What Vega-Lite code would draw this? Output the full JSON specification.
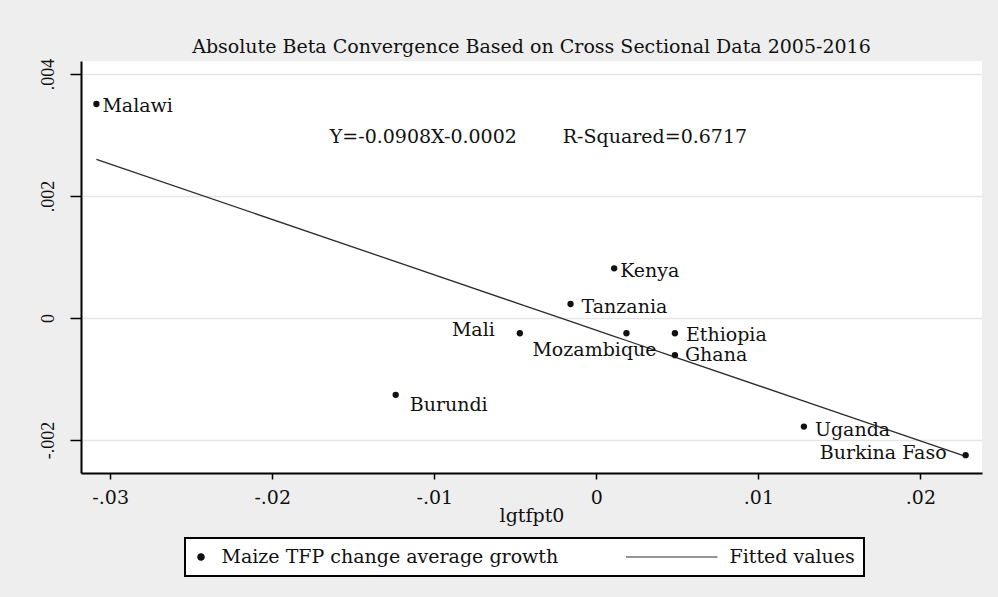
{
  "$schema": "https://vega.github.io/schema/vega-lite/v6.json",
  "width": 901,
  "height": 412,
  "autosize": {"type": "none"},
  "padding": {"left": 81, "top": 61, "right": 16, "bottom": 124},
  "background": "#eeeeee",
  "title": {
    "text": "Absolute Beta Convergence Based on Cross Sectional Data 2005-2016",
    "font": "DejaVu Serif",
    "fontSize": 19,
    "fontWeight": "normal",
    "color": "#111111",
    "anchor": "middle",
    "frame": "group",
    "baseline": "alphabetic",
    "offset": -14
  },
  "datasets": {
    "pts": [
      {"country": "Malawi", "x": -0.03085, "y": 0.00351, "fit": 0.0026012},
      {"country": "Kenya", "x": 0.0011, "y": 0.000815, "fit": -0.0002999},
      {"country": "Tanzania", "x": -0.00159, "y": 0.00023, "fit": -0.0000556},
      {"country": "Mali", "x": -0.00472, "y": -0.00025, "fit": 0.0002286},
      {"country": "Mozambique", "x": 0.00186, "y": -0.00025, "fit": -0.0003689},
      {"country": "Ethiopia", "x": 0.00485, "y": -0.00025, "fit": -0.0006404},
      {"country": "Ghana", "x": 0.00485, "y": -0.00061, "fit": -0.0006404},
      {"country": "Burundi", "x": -0.01238, "y": -0.00126, "fit": 0.0009241},
      {"country": "Uganda", "x": 0.01281, "y": -0.00178, "fit": -0.0013631},
      {"country": "Burkina Faso", "x": 0.02279, "y": -0.00225, "fit": -0.0022693}
    ],
    "ann": [
      {"x": -0.01645, "y": 0.002866, "label": "Y=-0.0908X-0.0002"},
      {"x": -0.00207, "y": 0.002866, "label": "R-Squared=0.6717"}
    ]
  },
  "encoding": {
    "x": {
      "field": "x",
      "type": "quantitative",
      "title": "lgtfpt0",
      "scale": {"domain": [-0.0318, 0.0238], "nice": false, "zero": false},
      "axis": {
        "values": [-0.03, -0.02, -0.01, 0, 0.01, 0.02],
        "labelExpr": "datum.value == 0 ? '0' : (datum.value < 0 ? '-' : '') + replace(format(abs(datum.value), '.2f'), '0.', '.')"
      }
    },
    "y": {
      "field": "y",
      "type": "quantitative",
      "title": null,
      "scale": {"domain": [-0.002542, 0.004215], "nice": false, "zero": false},
      "axis": {
        "values": [-0.002, 0, 0.002, 0.004],
        "labelExpr": "datum.value == 0 ? '0' : (datum.value < 0 ? '-' : '') + replace(format(abs(datum.value), '.3f'), '0.', '.')"
      }
    }
  },
  "layer": [
    {
      "data": {"name": "pts"},
      "mark": {"type": "line", "strokeWidth": 1.3},
      "encoding": {
        "y": {
          "field": "fit",
          "type": "quantitative",
          "title": null,
          "scale": {"domain": [-0.002542, 0.004215], "nice": false, "zero": false},
          "axis": {
            "values": [-0.002, 0, 0.002, 0.004],
            "labelExpr": "datum.value == 0 ? '0' : (datum.value < 0 ? '-' : '') + replace(format(abs(datum.value), '.3f'), '0.', '.')"
          }
        },
        "color": {
          "datum": "Fitted values",
          "type": "nominal",
          "scale": {"domain": ["Maize TFP change average growth", "Fitted values"], "range": ["#111111", "#2a2a2a"]},
          "legend": {
            "orient": "none",
            "legendX": 104,
            "legendY": 477,
            "direction": "horizontal",
            "title": null,
            "padding": 9,
            "strokeColor": "#000000",
            "fillColor": "#ffffff",
            "labelFont": "DejaVu Serif",
            "labelFontSize": 19,
            "labelColor": "#111111",
            "labelLimit": 600,
            "labelOffset": 11,
            "symbolOffset": -2.5,
            "columnPadding": 67,
            "clipHeight": 20,
            "symbolStrokeWidth": 1.2,
            "encode": {
              "legend": {"update": {"strokeWidth": {"value": 2}}},
              "symbols": {"update": {"stroke": {"value": "#222222"}, "fill": {"value": "#111111"}}}
            }
          }
        }
      }
    },
    {
      "data": {"name": "pts"},
      "mark": {"type": "point", "filled": true, "opacity": 1},
      "encoding": {
        "color": {
          "datum": "Maize TFP change average growth",
          "type": "nominal",
          "scale": {"domain": ["Maize TFP change average growth", "Fitted values"], "range": ["#111111", "#2a2a2a"]}
        },
        "shape": {
          "datum": "Maize TFP change average growth",
          "type": "nominal",
          "scale": {"domain": ["Maize TFP change average growth", "Fitted values"], "range": ["circle", "stroke"]}
        },
        "size": {
          "datum": "Maize TFP change average growth",
          "type": "nominal",
          "scale": {"type": "point", "padding": 0, "domain": ["Maize TFP change average growth", "Fitted values"], "range": [40, 8649]}
        }
      }
    },
    {
      "data": {"name": "pts"},
      "transform": [{"filter": {"field": "country", "oneOf": ["Malawi", "Kenya"]}}],
      "mark": {"type": "text", "align": "left", "baseline": "middle", "dx": 6, "dy": 2.5, "font": "DejaVu Serif", "fontSize": 19, "color": "#111111"},
      "encoding": {"text": {"field": "country"}}
    },
    {
      "data": {"name": "pts"},
      "transform": [{"filter": {"field": "country", "oneOf": ["Tanzania", "Uganda"]}}],
      "mark": {"type": "text", "align": "left", "baseline": "middle", "dx": 11, "dy": 3, "font": "DejaVu Serif", "fontSize": 19, "color": "#111111"},
      "encoding": {"text": {"field": "country"}}
    },
    {
      "data": {"name": "pts"},
      "transform": [{"filter": {"field": "country", "oneOf": ["Ethiopia"]}}],
      "mark": {"type": "text", "align": "left", "baseline": "middle", "dx": 11, "dy": 1.5, "font": "DejaVu Serif", "fontSize": 19, "color": "#111111"},
      "encoding": {"text": {"field": "country"}}
    },
    {
      "data": {"name": "pts"},
      "transform": [{"filter": {"field": "country", "oneOf": ["Ghana"]}}],
      "mark": {"type": "text", "align": "left", "baseline": "middle", "dx": 10, "dy": 0, "font": "DejaVu Serif", "fontSize": 19, "color": "#111111"},
      "encoding": {"text": {"field": "country"}}
    },
    {
      "data": {"name": "pts"},
      "transform": [{"filter": {"field": "country", "oneOf": ["Burundi"]}}],
      "mark": {"type": "text", "align": "left", "baseline": "middle", "dx": 14, "dy": 10, "font": "DejaVu Serif", "fontSize": 19, "color": "#111111"},
      "encoding": {"text": {"field": "country"}}
    },
    {
      "data": {"name": "pts"},
      "transform": [{"filter": {"field": "country", "oneOf": ["Mali"]}}],
      "mark": {"type": "text", "align": "right", "baseline": "middle", "dx": -25, "dy": -3, "font": "DejaVu Serif", "fontSize": 19, "color": "#111111"},
      "encoding": {"text": {"field": "country"}}
    },
    {
      "data": {"name": "pts"},
      "transform": [{"filter": {"field": "country", "oneOf": ["Burkina Faso"]}}],
      "mark": {"type": "text", "align": "right", "baseline": "middle", "dx": -19, "dy": -2, "font": "DejaVu Serif", "fontSize": 19, "color": "#111111"},
      "encoding": {"text": {"field": "country"}}
    },
    {
      "data": {"name": "pts"},
      "transform": [{"filter": {"field": "country", "oneOf": ["Mozambique"]}}],
      "mark": {"type": "text", "align": "center", "baseline": "middle", "dx": -32, "dy": 17, "font": "DejaVu Serif", "fontSize": 19, "color": "#111111"},
      "encoding": {"text": {"field": "country"}}
    },
    {
      "data": {"name": "ann"},
      "mark": {"type": "text", "align": "left", "baseline": "alphabetic", "font": "DejaVu Serif", "fontSize": 19, "color": "#111111"},
      "encoding": {"text": {"field": "label"}}
    }
  ],
  "config": {
    "view": {"fill": "#ffffff", "stroke": null},
    "axis": {
      "domainColor": "#000000",
      "domainWidth": 2,
      "tickColor": "#000000",
      "tickWidth": 1.5,
      "labelColor": "#111111",
      "titleColor": "#111111",
      "titleFontWeight": "normal",
      "labelFlush": false,
      "labelOverlap": false,
      "labelBound": false
    },
    "axisX": {
      "grid": false,
      "tickSize": 6,
      "labelFont": "DejaVu Serif",
      "labelFontSize": 19,
      "labelPadding": 9,
      "titleFont": "DejaVu Serif",
      "titleFontSize": 19,
      "titleY": 48,
      "titleBaseline": "alphabetic"
    },
    "axisY": {
      "grid": true,
      "gridColor": "#e6e6e6",
      "gridWidth": 1.5,
      "tickSize": 11,
      "labelFont": "Liberation Serif",
      "labelFontSize": 18,
      "labelAngle": -90,
      "labelAlign": "center",
      "labelBaseline": "alphabetic",
      "labelPadding": 17
    }
  }
}
